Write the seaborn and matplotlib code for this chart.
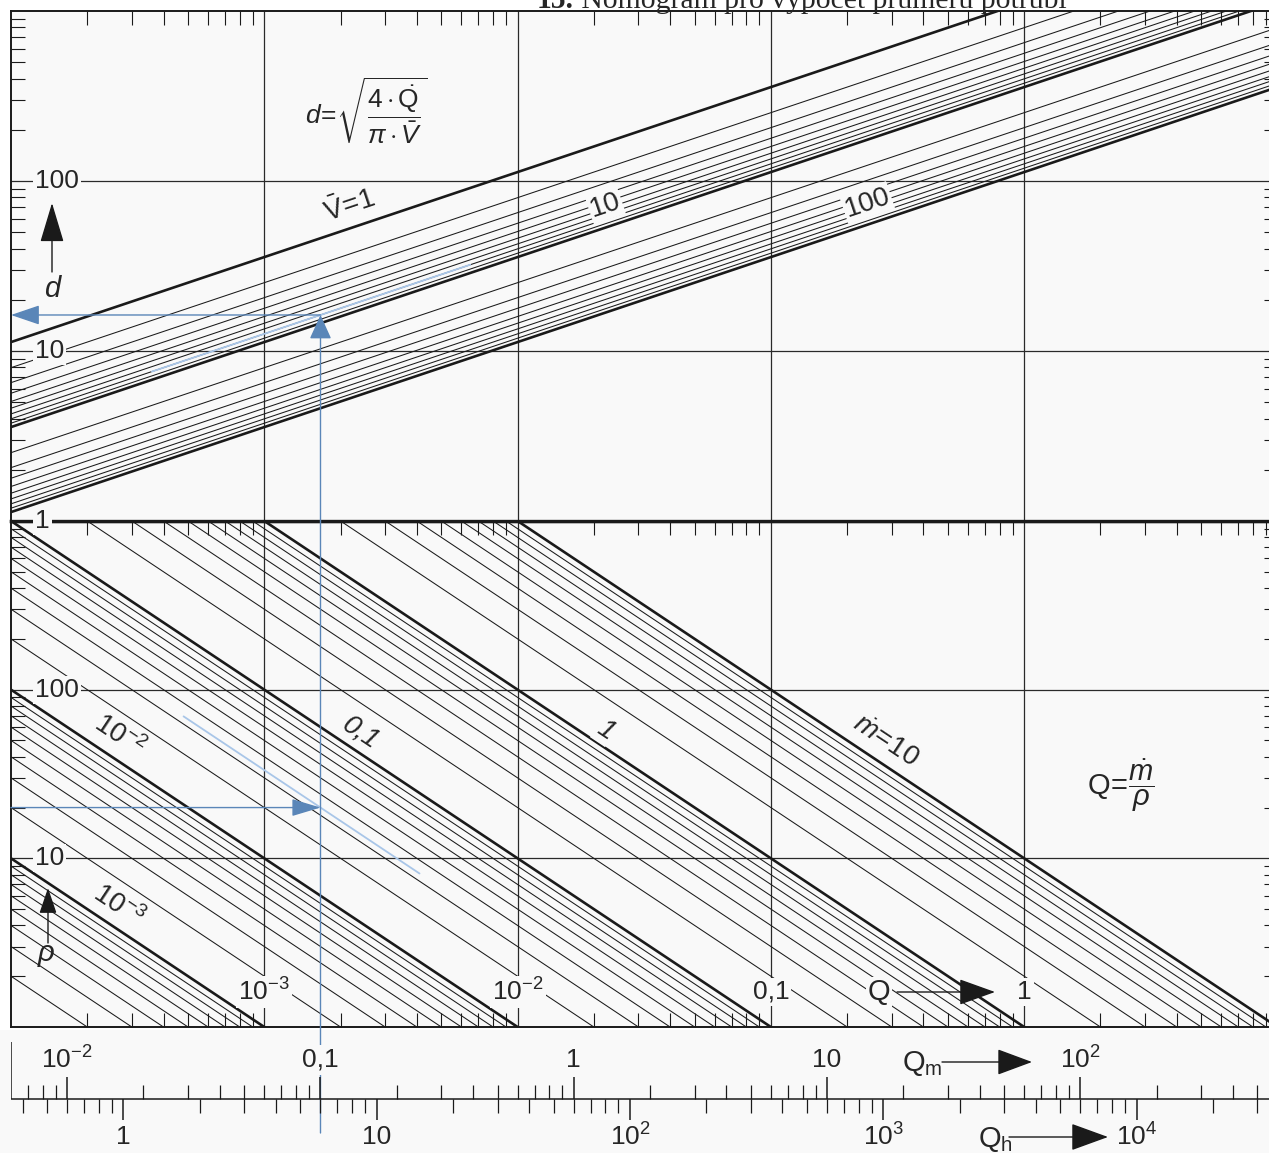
import numpy as np
import pandas as pd
import matplotlib
matplotlib.use("Agg")
import matplotlib.pyplot as plt
import seaborn as sns
from matplotlib.patches import ConnectionPatch, FancyArrowPatch, ArrowStyle, Rectangle
from matplotlib.ticker import LogLocator, FixedLocator, NullFormatter

# ---------------- data ----------------
q_limits = [1e-4, 10.0]          # volume flow Q [m3/s]
d_limits = [1.0, 1000.0]         # pipe diameter d [mm]
rho_limits = [1.0, 1000.0]       # density rho [kg/m3]

v_main = [1, 10, 100]            # mean velocity V [m/s], bold lines
v_minor = [2, 3, 4, 5, 6, 7, 8, 9,
           20, 30, 40, 50, 60, 70, 80, 90]

m_main = [1e-3, 1e-2, 0.1, 1, 10]   # mass flow [kg/s], bold lines
m_minor = [2e-4, 3e-4, 4e-4, 5e-4, 6e-4, 7e-4, 8e-4, 9e-4,
           2e-3, 3e-3, 4e-3, 5e-3, 6e-3, 7e-3, 8e-3, 9e-3,
           0.02, 0.03, 0.04, 0.05, 0.06, 0.07, 0.08, 0.09,
           0.2, 0.3, 0.4, 0.5, 0.6, 0.7, 0.8, 0.9,
           2, 3, 4, 5, 6, 7, 8, 9]

d_ticks = [1, 10, 100]
d_tick_labels = ["1", "10", "100"]
rho_ticks = [10, 100]
rho_tick_labels = ["10", "100"]
q_ticks = [1e-3, 1e-2, 0.1, 1]
q_tick_labels = [r"$10^{-3}$", r"$10^{-2}$", "0,1", "1"]
qm_ticks = [0.01, 0.1, 1, 10, 100]          # m3/min
qm_tick_labels = [r"$10^{-2}$", "0,1", "1", "10", r"$10^{2}$"]
qh_ticks = [1, 10, 100, 1000, 10000]        # m3/h
qh_tick_labels = ["1", "10", r"$10^{2}$", r"$10^{3}$", r"$10^{4}$"]

# worked example
ex_qm = 0.1                      # m3/min
ex_rho = 20.0                    # kg/m3
ex_v = 8.0                       # m/s
ex_m_span = [4.8e-4, 4.1e-3]     # Q-range of the interpolated mass-flow line
ex_v_span = [3.6e-4, 6.5e-3]     # Q-range of the interpolated velocity line

# line captions: (text, line value, Q of caption)
v_captions = [(r"$\bar{\mathrm{V}}\!=\!1$", 1, 2.3e-3),
              ("10", 10, 0.0236),
              ("100", 100, 0.255)]
m_captions = [(r"$\dot{m}\!=\!\mathit{10}$", 10, 0.255, 20),
              ("1", 1, 0.0206, 15),
              ("0,1", 0.1, 2.2e-3, 18),
              (r"$\mathit{10}^{-2}$", 0.01, 2.4e-4, 22),
              (r"$\mathit{10}^{-3}$", 1e-3, 2.4e-4, 20)]


def diameter(q, v):
    return 1000.0 * np.sqrt(4.0 * np.asarray(q) / (np.pi * v))


def density(q, m):
    return m / np.asarray(q)


ex_q = ex_qm / 60.0
ex_m = ex_q * ex_rho
ex_d = diameter(ex_q, ex_v)

# ---------------- style ----------------
sns.set_style("white")
plt.rcParams["font.family"] = ["Liberation Sans", "DejaVu Sans"]
plt.rcParams["mathtext.fontset"] = "custom"
plt.rcParams["mathtext.rm"] = "Liberation Sans"
plt.rcParams["mathtext.it"] = "Liberation Sans:italic"
plt.rcParams["mathtext.bf"] = "Liberation Sans:bold"
plt.rcParams["mathtext.sf"] = "Liberation Sans"

W, H, DPI = 1269, 1153, 100
PX_PER_PT = DPI / 72.0
BG = "#f9f9f9"
INK = "#1a1a1a"
BLUE = "#5a86b8"
LIGHT = "#a9c6e8"
FS = 19

fig = plt.figure(figsize=(W / DPI, H / DPI), dpi=DPI, facecolor="white")


def fig_xy(x, y):
    return x / W, 1.0 - y / H


def rect(x0, y0, x1, y1):
    return [x0 / W, 1.0 - y1 / H, (x1 - x0) / W, (y1 - y0) / H]


def head(length_px, width_px):
    return ArrowStyle("-|>", head_length=length_px / PX_PER_PT,
                      head_width=width_px / 2.0 / PX_PER_PT)


def fig_arrow(p0, p1, length_px, width_px, color=INK, lw=1.0):
    fig.add_artist(FancyArrowPatch(fig_xy(*p0), fig_xy(*p1), transform=fig.transFigure,
                                   arrowstyle=head(length_px, width_px), mutation_scale=1,
                                   color=color, lw=lw, shrinkA=0, shrinkB=0, zorder=6))


def fig_label(x, y, s, size=FS, **kw):
    fig.text(*fig_xy(x, y), s, fontsize=size, ha="center", va="center", zorder=7, **kw)


# grey background behind the unit scales
fig.add_artist(Rectangle((0, 0), 1, 1 - 1030 / H, transform=fig.transFigure,
                         facecolor=BG, edgecolor="none", zorder=-1))

PX_DEC = 253.3
X0 = 11
X1 = X0 + PX_DEC * np.log10(q_limits[1] / q_limits[0])

ax_bot = fig.add_axes(rect(X0, 521, X1, 1027))
ax_top = fig.add_axes(rect(X0, 11, X1, 521))
ax_strip = fig.add_axes(rect(X0, 1030, X1, 1153), zorder=4)

# ---------------- line families ----------------
top_df = pd.DataFrame([
    {"Q": q, "d": float(diameter(q, v)), "V": v,
     "weight": "bold" if v in v_main else "thin"}
    for v in v_main + v_minor for q in q_limits])
bot_df = pd.DataFrame([
    {"Q": q, "rho": float(density(q, m)), "m": m,
     "weight": "bold" if m in m_main else "thin"}
    for m in m_main + m_minor for q in q_limits])

for ax in (ax_top, ax_bot):
    ax.set_xscale("log")
    ax.set_yscale("log")

sns.lineplot(data=top_df, x="Q", y="d", units="V", estimator=None, size="weight",
             sizes={"bold": 1.9, "thin": 0.75}, color=INK, legend=False, ax=ax_top)
sns.lineplot(data=bot_df, x="Q", y="rho", units="m", estimator=None, size="weight",
             sizes={"bold": 1.9, "thin": 0.75}, color=INK, legend=False, ax=ax_bot)

ax_top.set_ylim(d_limits)
ax_bot.set_ylim(rho_limits)

for ax, ymaj in ((ax_top, [t for t in d_ticks if t > d_limits[0]]), (ax_bot, rho_ticks)):
    ax.set_xlim(q_limits)
    ax.set_facecolor(BG)
    ax.set_xlabel("")
    ax.set_ylabel("")
    ax.xaxis.set_major_locator(FixedLocator(q_ticks))
    ax.yaxis.set_major_locator(FixedLocator(ymaj))
    ax.xaxis.set_minor_locator(LogLocator(base=10, subs=np.arange(2, 10), numticks=60))
    ax.yaxis.set_minor_locator(LogLocator(base=10, subs=np.arange(2, 10), numticks=60))
    for a in (ax.xaxis, ax.yaxis):
        a.set_major_formatter(NullFormatter())
        a.set_minor_formatter(NullFormatter())
    ax.tick_params(which="both", direction="in", labelbottom=False, labelleft=False,
                   labeltop=False, labelright=False, left=True, right=True, color=INK)
    ax.tick_params(which="major", length=0)
    ax.tick_params(which="minor", length=10, width=0.8)
    ax.grid(True, which="major", color="#2a2a2a", lw=0.9)
    ax.grid(False, which="minor")
    for s in ax.spines.values():
        s.set_color(INK)
        s.set_linewidth(1.4)

ax_top.tick_params(axis="x", which="both", top=True, bottom=False)
ax_bot.tick_params(axis="x", which="both", top=True, bottom=True)
ax_top.spines["bottom"].set_linewidth(2.4)
ax_bot.spines["top"].set_linewidth(2.4)

# ---------------- axis numbers ----------------
box = dict(boxstyle="square,pad=0.08", fc=BG, ec="none")
for t, lab in zip(d_ticks, d_tick_labels):
    ax_top.annotate(lab, xy=(q_limits[0], t), xytext=(24, 0), textcoords="offset pixels",
                    ha="left", va="center", fontsize=FS, bbox=box, annotation_clip=False,
                    zorder=6)
for t, lab in zip(rho_ticks, rho_tick_labels):
    ax_bot.annotate(lab, xy=(q_limits[0], t), xytext=(24, 0), textcoords="offset pixels",
                    ha="left", va="center", fontsize=FS, bbox=box, annotation_clip=False,
                    zorder=6)
for t, lab in zip(q_ticks, q_tick_labels):
    ax_bot.annotate(lab, xy=(t, rho_limits[0]), xytext=(0, 35), textcoords="offset pixels",
                    ha="center", va="center", fontsize=FS, bbox=box, annotation_clip=False,
                    zorder=6)


# ---------------- line captions ----------------
def line_label(ax, func, q, text, off_px, size, boxed, **kw):
    p = ax.transData.transform((q, float(func(q))))
    p2 = ax.transData.transform((q * 1.5, float(func(q * 1.5))))
    ang = np.degrees(np.arctan2(p2[1] - p[1], p2[0] - p[0]))
    n = np.array([-np.sin(np.radians(ang)), np.cos(np.radians(ang))])
    c = ax.transData.inverted().transform(p + off_px * n)
    ax.text(c[0], c[1], text, rotation=ang, rotation_mode="anchor", ha="center",
            va="center", fontsize=size, zorder=5,
            bbox=dict(boxstyle="square,pad=0.05", fc=BG, ec="none") if boxed else None, **kw)


for text, v, q in v_captions:
    line_label(ax_top, lambda x, v=v: diameter(x, v), q, text, 21, 20, v != 1)
for text, m, q, off in m_captions:
    line_label(ax_bot, lambda x, m=m: density(x, m), q, text, off, 20, True,
               fontstyle="italic")

# ---------------- worked example ----------------
ax_bot.plot(ex_m_span, density(ex_m_span, ex_m), color=LIGHT, lw=1.3, zorder=4)
ax_top.plot(ex_v_span, diameter(ex_v_span, ex_v), color=LIGHT, lw=1.3, zorder=4)

# ---------------- unit scales Q_m / Q_h ----------------
ax_strip.set_xscale("log")
ax_strip.set_xlim(q_limits)
ax_strip.set_ylim(1153, 1030)
ax_strip.axis("off")

AXIS_Y = 1099
ax_strip.hlines(AXIS_Y, q_limits[0], q_limits[1], color=INK, lw=1.1)
ax_strip.vlines(q_limits[0], 1042, AXIS_Y, color=INK, lw=1.1)


def minor_values(lo, hi):
    vals = LogLocator(base=10, subs=np.arange(2, 10)).tick_values(lo, hi)
    return np.array([v for v in vals if lo < v < hi])


qm_lo, qm_hi = q_limits[0] * 60, q_limits[1] * 60
qh_lo, qh_hi = q_limits[0] * 3600, q_limits[1] * 3600
ax_strip.vlines(np.array(qm_ticks) / 60, 1077, AXIS_Y, color=INK, lw=1.1)
ax_strip.vlines(minor_values(qm_lo, qm_hi) / 60, 1085, AXIS_Y, color=INK, lw=0.9)
ax_strip.vlines(np.array(qh_ticks) / 3600, AXIS_Y, 1120, color=INK, lw=1.1)
ax_strip.vlines(minor_values(qh_lo, qh_hi) / 3600, AXIS_Y, 1113, color=INK, lw=0.9)
for t, lab in zip(qm_ticks, qm_tick_labels):
    ax_strip.text(t / 60, 1060, lab, ha="center", va="center", fontsize=FS,
                  bbox=dict(boxstyle="square,pad=0.1", fc=BG, ec="none"))
for t, lab in zip(qh_ticks, qh_tick_labels):
    ax_strip.text(t / 3600, 1137, lab, ha="center", va="center", fontsize=FS,
                  bbox=dict(boxstyle="square,pad=0.1", fc=BG, ec="none"))

# example path (blue arrows)
fig.add_artist(ConnectionPatch(xyA=(ex_q, 1133), coordsA=ax_strip.transData,
                               xyB=(ex_q, ex_d), coordsB=ax_top.transData,
                               arrowstyle=head(21, 19), mutation_scale=1, color=BLUE,
                               lw=1.0, shrinkA=0, shrinkB=0, zorder=3))
fig.add_artist(ConnectionPatch(xyA=(ex_q, ex_d), coordsA=ax_top.transData,
                               xyB=(q_limits[0], ex_d), coordsB=ax_top.transData,
                               arrowstyle=head(25, 17), mutation_scale=1, color=BLUE,
                               lw=1.0, shrinkA=0, shrinkB=0, zorder=3))
fig.add_artist(ConnectionPatch(xyA=(q_limits[0], ex_rho), coordsA=ax_bot.transData,
                               xyB=(ex_q, ex_rho), coordsB=ax_bot.transData,
                               arrowstyle=head(25, 15), mutation_scale=1, color=BLUE,
                               lw=1.0, shrinkA=0, shrinkB=0, zorder=3))

# ---------------- axis names, arrows and formulas ----------------
fig_arrow((52, 272), (52, 203), 35, 21)
fig_label(52, 289, "d", size=21, fontstyle="italic")
fig_arrow((48, 943), (48, 888), 22, 15)
fig_label(46, 953, "ρ", size=21, fontstyle="italic")

fig_label(879, 992, "Q", size=21, bbox=dict(boxstyle="square,pad=0.05", fc=BG, ec="none"))
fig_arrow((897, 992), (995, 992), 32, 23)
fig_label(922, 1064, r"$\mathrm{Q}_{\mathrm{m}}$", size=21)
fig_arrow((942, 1062), (1032, 1062), 31, 23)
fig_label(995, 1139, r"$\mathrm{Q}_{\mathrm{h}}$", size=21)
fig_arrow((1009, 1137), (1108, 1137), 33, 24)

fig_label(366, 111, r"$d\!=\!\sqrt{\dfrac{4\cdot\dot{\mathrm{Q}}}{\pi\cdot\bar{V}}}$", size=19)
fig_label(1121, 786, r"$\mathrm{Q}\!=\!\dfrac{\dot{m}}{\rho}$", size=21)

# ---------------- title (runs off the top edge) ----------------
renderer = fig.canvas.get_renderer()
title_kw = dict(family="Liberation Serif", va="baseline", ha="left", zorder=8)
t1 = fig.text(*fig_xy(537, 8), "15.", fontweight="bold", fontsize=20, **title_kw)
t2 = fig.text(*fig_xy(537, 8), " Nomogram pro výpočet průměru potrubí", fontsize=20,
              **title_kw)
w1 = t1.get_window_extent(renderer).width
w2 = t2.get_window_extent(renderer).width
scale = 528.0 / (w1 + w2)
t1.set_fontsize(20 * scale)
t2.set_fontsize(20 * scale)
w1 = t1.get_window_extent(renderer).width
t2.set_position(fig_xy(537 + w1, 8))

fig.savefig("out.png", dpi=DPI, facecolor=fig.get_facecolor())
